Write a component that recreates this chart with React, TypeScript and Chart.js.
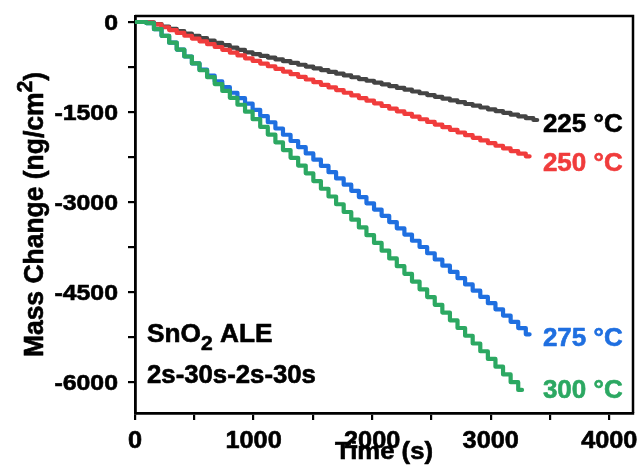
import React, { useEffect, useRef } from "react";
import { Chart, registerables } from "chart.js";

Chart.register(...registerables);

// Time axis (s): one point per ALE cycle (2s-30s-2s-30s = 64 s)
const times = [
  0, 64, 128, 192, 256, 320, 384, 448, 512, 576, 640, 704, 768, 832, 896, 960,
  1024, 1088, 1152, 1216, 1280, 1344, 1408, 1472, 1536, 1600, 1664, 1728, 1792,
  1856, 1920, 1984, 2048, 2112, 2176, 2240, 2304, 2368, 2432, 2496, 2560, 2624,
  2688, 2752, 2816, 2880, 2944, 3008, 3072, 3136, 3200, 3264, 3328, 3392,
];

// Mass change (ng/cm2)
const mass225 = [
  0, 0, -5, -35, -75, -114, -153, -192, -231, -270, -309, -348, -387, -426, -466,
  -505, -535, -564, -594, -624, -654, -683, -713, -743, -772, -802, -832, -862,
  -891, -921, -951, -980, -1010, -1040, -1070, -1099, -1129, -1159, -1188, -1218,
  -1248, -1278, -1307, -1337, -1367, -1396, -1426, -1456, -1486, -1515, -1545,
  -1575, -1604, -1634,
];
const mass250 = [
  0, 0, -8, -40, -88, -135, -182, -229, -276, -323, -370, -417, -464, -511, -558,
  -605, -649, -693, -738, -782, -826, -870, -914, -959, -1003, -1047, -1091, -1135,
  -1180, -1224, -1268, -1312, -1356, -1401, -1445, -1489, -1533, -1577, -1622,
  -1666, -1710, -1754, -1798, -1843, -1887, -1931, -1975, -2019, -2064, -2108,
  -2152, -2196, -2240,
];
const mass275 = [
  0, 0, -20, -120, -230, -345, -460, -575, -690, -795, -895, -990, -1085, -1180,
  -1270, -1360, -1464, -1568, -1672, -1776, -1880, -1984, -2088, -2192, -2296,
  -2400, -2504, -2608, -2712, -2816, -2920, -3024, -3128, -3232, -3336, -3440,
  -3544, -3648, -3752, -3856, -3960, -4064, -4168, -4272, -4376, -4480, -4584,
  -4688, -4792, -4896, -5000, -5104, -5208,
];
const mass300 = [
  0, 0, -20, -120, -230, -345, -460, -575, -690, -805, -920, -1035, -1150, -1265,
  -1380, -1495, -1620, -1749, -1878, -2007, -2136, -2265, -2394, -2523, -2652,
  -2781, -2910, -3039, -3168, -3297, -3426, -3555, -3684, -3813, -3942, -4071,
  -4200, -4329, -4458, -4587, -4716, -4845, -4974, -5103, -5232, -5361, -5490,
  -5619, -5748, -5877, -6006, -6135,
];

const seriesLabels = ["225 °C", "250 °C", "275 °C", "300 °C"];
const xTickValues = [0, 500, 1000, 1500, 2000, 2500, 3000, 3500, 4000];
const xTickLabels = ["0", "1000", "2000", "3000", "4000"];
const yTickValues = [0, -750, -1500, -2250, -3000, -3750, -4500, -5250, -6000];
const yTickLabels = ["0", "-1500", "-3000", "-4500", "-6000"];

const COLORS = ["#444444", "#f03c3c", "#1f6fe0", "#2ca862"];
const LABEL_COLORS = ["#000000", "#f03c3c", "#1f6fe0", "#2ca862"];
const LABEL_DY = [3, 5, 2, -1];
const FONT = "'Liberation Sans', Arial, sans-serif";

type Part = { t: string; scale?: number; dy?: number };

function drawRich(
  ctx: CanvasRenderingContext2D,
  parts: Part[],
  x: number,
  y: number,
  size: number,
  sx: number,
  align: "left" | "right" | "center",
  color: string
) {
  ctx.save();
  ctx.fillStyle = color;
  ctx.strokeStyle = color;
  ctx.lineWidth = 0.6;
  ctx.lineJoin = "round";
  ctx.textBaseline = "alphabetic";
  ctx.textAlign = "left";
  let total = 0;
  const widths = parts.map((p) => {
    ctx.font = `bold ${size * (p.scale ?? 1)}px ${FONT}`;
    const w = ctx.measureText(p.t).width;
    total += w;
    return w;
  });
  let x0 = x;
  if (align === "right") x0 = x - total * sx;
  else if (align === "center") x0 = x - (total * sx) / 2;
  ctx.translate(x0, y);
  ctx.scale(sx, 1);
  let cx = 0;
  parts.forEach((p, i) => {
    ctx.font = `bold ${size * (p.scale ?? 1)}px ${FONT}`;
    ctx.fillText(p.t, cx, (p.dy ?? 0) * size);
    ctx.strokeText(p.t, cx, (p.dy ?? 0) * size);
    cx += widths[i];
  });
  ctx.restore();
}

const textPlugin = {
  id: "customText",
  afterDraw(chart: any) {
    const { ctx, chartArea: a, scales } = chart;
    const xs = scales.x;
    const ys = scales.y;
    // top and right frame
    ctx.save();
    ctx.strokeStyle = "#000";
    ctx.lineWidth = 2.5;
    ctx.beginPath();
    ctx.moveTo(a.left, a.top);
    ctx.lineTo(a.right, a.top);
    ctx.lineTo(a.right, a.bottom);
    ctx.stroke();
    ctx.restore();

    // y tick labels
    yTickLabels.forEach((s) => {
      const py = ys.getPixelForValue(Number(s));
      drawRich(ctx, [{ t: s }], a.left - 17, py + 7.8, 22, 1.13, "right", "#000");
    });
    // x tick labels
    xTickLabels.forEach((s) => {
      const px = xs.getPixelForValue(Number(s));
      drawRich(ctx, [{ t: s }], px, a.bottom + 34.5, 23, 1.1, "center", "#000");
    });
    // x title
    drawRich(ctx, [{ t: "Time (s)" }], (a.left + a.right) / 2, a.bottom + 46, 24, 1.07, "center", "#000");
    // y title
    ctx.save();
    ctx.translate(43, (a.top + a.bottom) / 2);
    ctx.rotate(-Math.PI / 2);
    drawRich(
      ctx,
      [{ t: "Mass Change (ng/cm" }, { t: "2", scale: 0.8, dy: -0.4 }, { t: ")" }],
      0,
      0,
      27,
      0.98,
      "center",
      "#000"
    );
    ctx.restore();

    // annotation
    drawRich(
      ctx,
      [{ t: "SnO" }, { t: "2", scale: 0.8, dy: 0.3 }, { t: " ALE" }],
      a.left + 12,
      a.bottom - 71,
      25,
      1.05,
      "left",
      "#000"
    );
    drawRich(ctx, [{ t: "2s-30s-2s-30s" }], a.left + 12, a.bottom - 30, 25, 1.03, "left", "#000");

    // series labels
    chart.data.datasets.forEach((ds: any, i: number) => {
      const last = ds.data[ds.data.length - 1];
      const py = ys.getPixelForValue(last.y) + LABEL_DY[i];
      const px = xs.getPixelForValue(3440);
      drawRich(ctx, [{ t: seriesLabels[i] }], px, py + 9.5, 26, 1.0, "left", LABEL_COLORS[i]);
    });
  },
};

function makeData(vals: number[]) {
  return vals.map((v, i) => ({ x: times[i], y: v }));
}

export default function App() {
  const ref = useRef<HTMLCanvasElement | null>(null);
  useEffect(() => {
    if (!ref.current) return;
    const series = [mass225, mass250, mass275, mass300];
    const chart = new Chart(ref.current, {
      type: "line",
      data: {
        datasets: series.map((s, i) => ({
          label: seriesLabels[i],
          data: makeData(s),
          borderColor: COLORS[i],
          backgroundColor: COLORS[i],
          borderWidth: 4.2,
          pointRadius: 0,
          stepped: "middle" as const,
          borderJoinStyle: "round" as const,
          borderCapStyle: "round" as const,
          order: 4 - i,
        })),
      },
      options: {
        animation: false,
        responsive: false,
        maintainAspectRatio: false,
        layout: { padding: { top: 16, right: 6, left: 0, bottom: 0 } },
        plugins: { legend: { display: false }, tooltip: { enabled: false } },
        scales: {
          x: {
            type: "linear",
            min: 0,
            max: 4200,
            afterBuildTicks: (s: any) => {
              s.ticks = xTickValues.map((v) => ({ value: v }));
            },
            afterFit: (s: any) => {
              s.height = 61;
            },
            ticks: { display: false },
            grid: { drawOnChartArea: false, drawTicks: true, tickLength: 7, color: "#000", lineWidth: 2.2 },
            border: { display: true, color: "#000", width: 2.8 },
          },
          y: {
            type: "linear",
            min: -6520,
            max: 100,
            afterBuildTicks: (s: any) => {
              s.ticks = yTickValues.map((v) => ({ value: v }));
            },
            afterFit: (s: any) => {
              s.width = 135;
            },
            ticks: { display: false },
            grid: { drawOnChartArea: false, drawTicks: true, tickLength: 7, color: "#000", lineWidth: 2.2 },
            border: { display: true, color: "#000", width: 2.8 },
          },
        },
      },
      plugins: [textPlugin],
    });
    return () => chart.destroy();
  }, []);
  return (
    <div style={{ position: "absolute", left: 0, top: 0, width: 639, height: 474, background: "#fff" }}>
      <canvas ref={ref} width={639} height={474} />
    </div>
  );
}
